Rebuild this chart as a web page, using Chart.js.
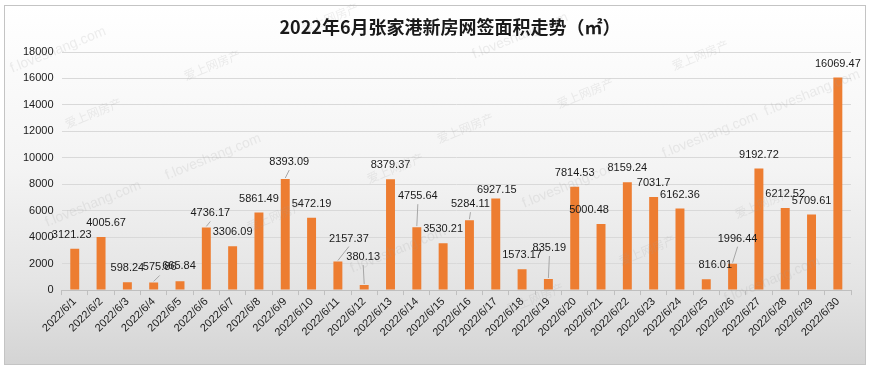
<!DOCTYPE html>
<html>
<head>
<meta charset="utf-8">
<script src="https://cdn.jsdelivr.net/npm/chart.js@4.4.1/dist/chart.umd.min.js"></script>
<style>
    html, body { margin: 0; padding: 0; background: #ffffff; }
    #wrap { position: relative; width: 870px; height: 368px; }
    #frame {
        position: absolute; left: 4px; top: 5px; width: 860px; height: 358px;
        border: 1px solid #c4c4c4;
        background: linear-gradient(#ffffff 0%, #f4f4f4 45%, #e4e4e4 78%, #d4d4d4 100%);
    }
    #chart { position: absolute; left: 0; top: 0; }
</style>
</head>
<body>
<div id="wrap">
    <div id="frame"></div>
    <canvas id="chart" width="870" height="368"></canvas>
</div>
<script>
// === Data ===
const chartTitle = '2022年6月张家港新房网签面积走势（㎡）';
const dates = [
    '2022/6/1', '2022/6/2', '2022/6/3', '2022/6/4', '2022/6/5', '2022/6/6',
    '2022/6/7', '2022/6/8', '2022/6/9', '2022/6/10', '2022/6/11', '2022/6/12',
    '2022/6/13', '2022/6/14', '2022/6/15', '2022/6/16', '2022/6/17', '2022/6/18',
    '2022/6/19', '2022/6/20', '2022/6/21', '2022/6/22', '2022/6/23', '2022/6/24',
    '2022/6/25', '2022/6/26', '2022/6/27', '2022/6/28', '2022/6/29', '2022/6/30'
];
const areas = [
    3121.23, 4005.67, 598.24, 575.86, 665.84, 4736.17,
    3306.09, 5861.49, 8393.09, 5472.19, 2157.37, 380.13,
    8379.37, 4755.64, 3530.21, 5284.11, 6927.15, 1573.17,
    835.19, 7814.53, 5000.48, 8159.24, 7031.7, 6162.36,
    816.01, 1996.44, 9192.72, 6212.52, 5709.61, 16069.47
];
const yMin = 0;
const yMax = 18000;
const yStep = 2000;

const watermarkTexts = ['f.loveshang.com', '爱上网房产'];

// label nudges (dx, dy from bar top) where Excel moved the label, with leader line flag
const labelNudge = {
    0: [-3, -14], 1: [5, -14], 3: [6, -15, true], 4: [-1, -15], 5: [4, -14, true],
    8: [4, -17, true], 10: [11, -23, true], 11: [-1, -28, true], 13: [1, -31, true],
    15: [1, -16, true], 16: [1, -8], 18: [1, -31, true], 20: [-12, -14],
    24: [9, -14], 25: [5, -25, true]
};

// === Plugins ===
const titlePlugin = {
    id: 'titleText',
    afterDraw(chart) {
        const ctx = chart.ctx;
        ctx.save();
        ctx.font = "bold 18px 'Noto Sans CJK SC', sans-serif";
        ctx.fillStyle = '#1a1a1a';
        ctx.textAlign = 'center';
        ctx.textBaseline = 'middle';
        ctx.fillText(chartTitle, 450, 27);
        ctx.restore();
    }
};

const valueLabels = {
    id: 'valueLabels',
    afterDatasetsDraw(chart) {
        const ctx = chart.ctx;
        const meta = chart.getDatasetMeta(0);
        ctx.save();
        ctx.font = "11px 'Liberation Sans', Arial, sans-serif";
        ctx.textAlign = 'center';
        ctx.textBaseline = 'middle';
        meta.data.forEach((bar, i) => {
            const nudge = labelNudge[i] || [0, -14];
            const lx = bar.x + nudge[0];
            const ly = bar.y + nudge[1];
            if (nudge[2]) {
                ctx.strokeStyle = '#a6a6a6';
                ctx.lineWidth = 1;
                ctx.beginPath();
                ctx.moveTo(bar.x, bar.y - 1);
                ctx.lineTo(lx, ly + 8);
                ctx.stroke();
            }
            ctx.fillStyle = '#1a1a1a';
            ctx.fillText(String(areas[i]), lx, ly);
        });
        ctx.restore();
    }
};

const watermarks = {
    id: 'watermarks',
    afterDraw(chart) {
        const ctx = chart.ctx;
        const spots = [
            [0, 58, 50], [1, 212, 65], [0, 213, 157], [1, 93, 113], [0, 93, 204],
            [1, 275, 216], [1, 395, 168], [0, 398, 250], [1, 465, 128], [0, 520, 36],
            [0, 570, 185], [1, 585, 93], [1, 700, 55], [0, 710, 135], [0, 812, 93],
            [1, 763, 203], [1, 647, 250], [0, 772, 280], [1, 535, 298], [1, 330, 18]
        ];
        ctx.save();
        ctx.fillStyle = 'rgba(160, 160, 160, 0.18)';
        ctx.textAlign = 'center';
        ctx.textBaseline = 'middle';
        spots.forEach(s => {
            ctx.save();
            ctx.translate(s[1], s[2]);
            ctx.rotate(-22 * Math.PI / 180);
            ctx.font = s[0] === 0 ? "14px 'Liberation Sans', Arial, sans-serif"
                : "12px 'Noto Sans CJK SC', sans-serif";
            ctx.fillText(watermarkTexts[s[0]], 0, 0);
            ctx.restore();
        });
        ctx.restore();
    }
};

// === Chart ===
document.addEventListener('DOMContentLoaded', function() {
    Chart.defaults.font.family = "'Liberation Sans', Arial, sans-serif";
    Chart.defaults.color = '#1a1a1a';

    const ctx = document.getElementById('chart').getContext('2d');
    new Chart(ctx, {
        type: 'bar',
        data: {
            labels: dates,
            datasets: [{
                data: areas,
                backgroundColor: '#ED7D31',
                barPercentage: 0.34,
                categoryPercentage: 1
            }]
        },
        options: {
            responsive: false,
            animation: false,
            layout: { padding: { left: 15, right: 19, top: 52, bottom: 29 } },
            plugins: {
                legend: { display: false },
                tooltip: { enabled: false }
            },
            scales: {
                x: {
                    offset: true,
                    grid: {
                        offset: true,
                        drawOnChartArea: false,
                        drawTicks: true,
                        tickLength: 5,
                        color: '#bfbfbf'
                    },
                    border: { color: '#bfbfbf' },
                    ticks: {
                        minRotation: 45,
                        maxRotation: 45,
                        autoSkip: false,
                        padding: 0,
                        font: { size: 11 },
                        color: '#1a1a1a'
                    }
                },
                y: {
                    min: yMin,
                    max: yMax,
                    grid: { color: '#d9d9d9', drawTicks: false },
                    border: { display: false },
                    ticks: {
                        stepSize: yStep,
                        padding: 8,
                        font: { size: 11 },
                        color: '#1a1a1a',
                        callback: value => String(value)
                    }
                }
            }
        },
        plugins: [watermarks, valueLabels, titlePlugin]
    });
});
</script>
</body>
</html>
